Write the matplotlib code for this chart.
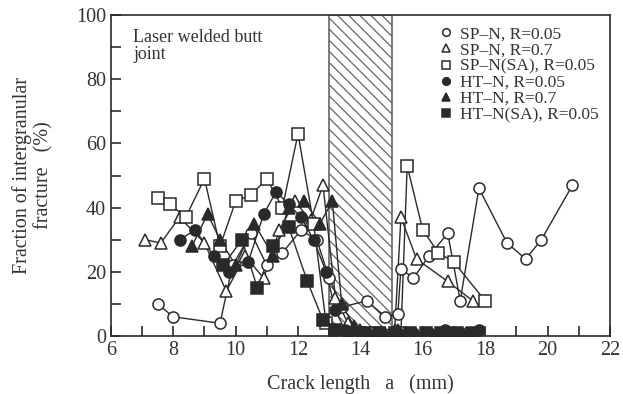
import matplotlib
matplotlib.use("Agg")
import matplotlib.pyplot as plt
from matplotlib.ticker import MultipleLocator

plt.rcParams["font.family"] = ["Liberation Serif", "DejaVu Serif"]
plt.rcParams["hatch.linewidth"] = 0.9

# SP-N, R=0.05 (open circles)
spn_005_x = [7.5, 8.0, 9.5, 9.9, 10.5, 11.0, 11.5, 12.1, 12.6, 13.0, 13.4, 14.2, 14.8, 15.2, 15.3, 15.7, 16.2, 16.8, 17.2, 17.8, 18.7, 19.3, 19.8, 20.8]
spn_005_y = [10, 6, 4, 22, 32, 22, 26, 33, 30, 18, 9, 11, 6, 7, 21, 18, 25, 32, 11, 46, 29, 24, 30, 47]

# SP-N, R=0.7 (open triangles)
spn_07_x = [7.1, 7.6, 8.2, 9.0, 9.7, 10.3, 10.9, 11.4, 11.9, 12.4, 12.8, 13.2, 13.6, 14.0, 15.1, 15.3, 15.8, 16.8, 17.6]
spn_07_y = [30, 29, 37, 29, 14, 25, 18, 33, 42, 36, 47, 12, 4, 2, 2, 37, 24, 17, 11]

# SP-N(SA), R=0.05 (open squares)
spnsa_x = [7.5, 7.9, 8.4, 9.0, 9.5, 10.0, 10.5, 11.0, 11.5, 12.0, 12.5, 12.9, 13.5, 14.0, 14.5, 15.3, 15.5, 16.0, 16.5, 17.0, 18.0]
spnsa_y = [43, 41, 37, 49, 28, 42, 44, 49, 40, 63, 35, 4, 1, 1, 1, 1, 53, 33, 26, 23, 11]

# HT-N, R=0.05 (filled circles)
htn_005_x = [8.2, 8.7, 9.3, 9.8, 10.4, 10.9, 11.3, 11.7, 12.1, 12.5, 12.9, 13.2, 13.5, 14.0, 14.6, 15.2, 15.7, 16.2, 16.7, 17.2, 17.8]
htn_005_y = [30, 33, 25, 20, 23, 38, 45, 41, 37, 30, 20, 8, 2, 1, 1, 1, 1, 1, 2, 1, 2]

# HT-N, R=0.7 (filled triangles)
htn_07_x = [8.6, 9.1, 9.5, 10.0, 10.6, 11.2, 11.7, 12.2, 12.7, 13.1, 13.4, 13.8, 14.3, 14.8, 15.2, 15.6, 16.2, 16.8, 17.4]
htn_07_y = [28, 38, 30, 22, 35, 25, 40, 42, 35, 42, 10, 3, 1, 1, 2, 1, 1, 1, 1]

# HT-N(SA), R=0.05 (filled squares)
htnsa_x = [9.6, 10.2, 10.7, 11.2, 11.7, 12.3, 12.8, 13.2, 13.6, 14.1, 14.6, 15.1, 15.6, 16.1, 16.6, 17.1, 17.6]
htnsa_y = [22, 30, 15, 28, 34, 17, 5, 2, 1, 1, 1, 1, 1, 1, 1, 1, 1]

weld_zone = (13.0, 15.0)

ink = "#2a2a2a"
fig = plt.figure(figsize=(6.23, 3.94), dpi=100)
ax = fig.add_axes([0.178, 0.147, 0.801, 0.815])

ax.axvspan(*weld_zone, facecolor="white", edgecolor="#666666", hatch="\\\\\\",
           linewidth=1.2, zorder=1)

series = [
    (spn_005_x, spn_005_y, "o", "white", "SP\u2013N, R=0.05"),
    (spn_07_x, spn_07_y, "^", "white", "SP\u2013N, R=0.7"),
    (spnsa_x, spnsa_y, "s", "white", "SP\u2013N(SA), R=0.05"),
    (htn_005_x, htn_005_y, "o", ink, "HT\u2013N, R=0.05"),
    (htn_07_x, htn_07_y, "^", ink, "HT\u2013N, R=0.7"),
    (htnsa_x, htnsa_y, "s", ink, "HT\u2013N(SA), R=0.05"),
]
handles = []
for xs, ys, m, fc, lab in series:
    ax.plot(xs, ys, "-", color=ink, lw=1.0, zorder=2)
    ax.plot(xs, ys, ls="none", marker=m, ms=8, mfc=fc, mec=ink, mew=1.1, zorder=3)
    h, = ax.plot([], [], ls="none", marker=m, ms=5.5, mfc=fc, mec=ink, mew=1.1, label=lab)
    handles.append(h)

ax.set_xlim(6, 22)
ax.set_ylim(0, 100)
ax.xaxis.set_major_locator(MultipleLocator(2))
ax.xaxis.set_minor_locator(MultipleLocator(1))
ax.yaxis.set_major_locator(MultipleLocator(20))
ax.yaxis.set_minor_locator(MultipleLocator(10))
ax.tick_params(which="both", direction="in", length=7, width=1.2, color=ink,
               labelsize=14.5, labelcolor="#333333", top=False, right=False)
for s in ax.spines.values():
    s.set_color(ink)
    s.set_linewidth(1.2)

ax.set_xlabel("Crack length   a   (mm)", fontsize=14.5, color="#333333", labelpad=10)
ax.set_ylabel("Fraction of intergranular\nfracture   (%)", fontsize=14.5,
              color="#333333", labelpad=16, linespacing=1.15)

ax.text(0.045, 0.955, "Laser welded butt\njoint", transform=ax.transAxes,
        fontsize=13, color="#333333", va="top", ha="left", linespacing=0.95)

leg = ax.legend(handles=handles, loc="upper right", bbox_to_anchor=(1.0, 1.0),
                frameon=False, fontsize=12.5, handlelength=0.7, handletextpad=0.45,
                labelspacing=0.0, borderaxespad=0.25)
for t in leg.get_texts():
    t.set_color("#333333")

fig.savefig("out.png", dpi=100)
